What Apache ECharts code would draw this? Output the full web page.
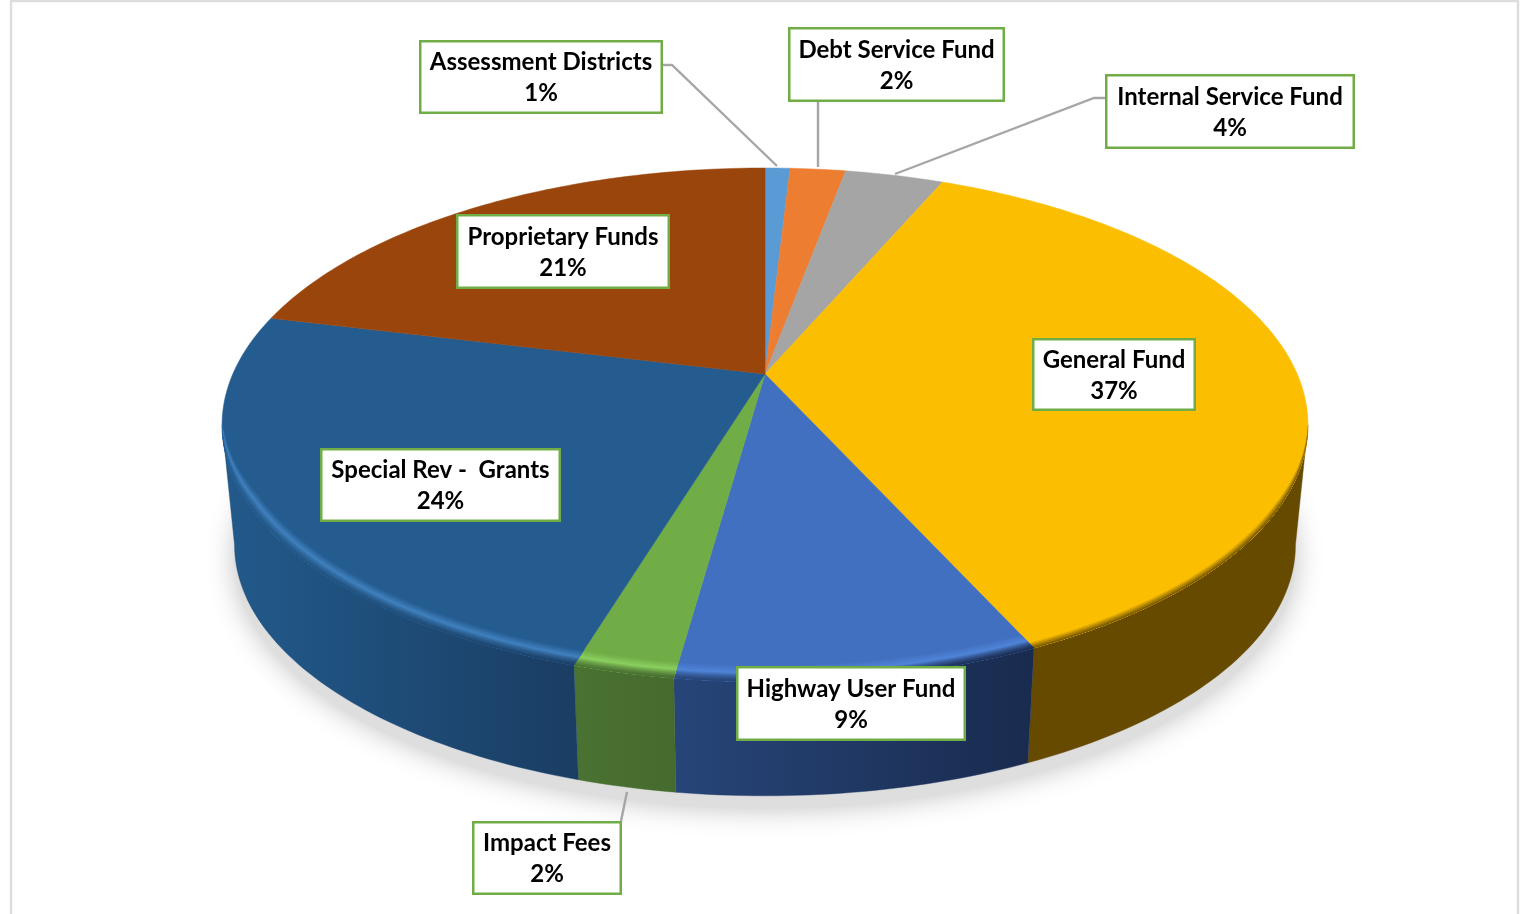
<!DOCTYPE html>
<html><head><meta charset="utf-8">
<style>html,body{margin:0;padding:0;background:#fff}#c{width:1520px;height:914px;filter:blur(0.55px)}</style>
<script src="https://cdn.jsdelivr.net/npm/echarts@6/dist/echarts.min.js"></script>
</head><body><div id="c"></div>
<script>
const categories = ['Assessment Districts','Debt Service Fund','Internal Service Fund','General Fund','Highway User Fund','Impact Fees','Special Rev -  Grants','Proprietary Funds'];
const percentLabels = ['1%','2%','4%','37%','9%','2%','24%','21%'];
const values = [0.9,2.0,3.55,36.75,9.0,2.5,24.1,21.2];
const faceColors = ['#5B9BD5','#ED7D31','#A5A5A5','#FBBE00','#4270C0','#70AD47','#255C90','#99450C'];
const rimColors = [null,null,null,null,'#4F84D8','#8AD05E','#3F80BE',null];
const wallLeftColors = ['#000','#000','#000','#664A00','#274579','#4A7232','#225A8B','#000'];
const wallRightColors = ['#000','#000','#000','#664A00','#192B4E','#456A2E','#1A3D63','#000'];
const labelBoxes = [[419,40,244,74],[788,27,217,75],[1105,74,250,75],[1032,338,164,73],[736,666,230,75],[472,821,150,74],[320,448,241,74],[456,214,214,75]];
const leaders = [[[662,65],[672,65],[777,166]],[[818,102],[818,167]],[[1105,98],[1094,98],[895,174]],[[627,792],[621,821]]];

const CX=765, CY=374, K=0.198, A=532.2, B=246.8, BOTTOM_SCALE=0.977, ELL_CY=425, BOTTOM_CY=545;
const rad=d=>d*Math.PI/180;
function proj(rho,deg){const u=rho*Math.sin(rad(deg)),v=rho*Math.cos(rad(deg)),w=1+K*v;return [CX+A*u/w,CY-B*v/w];}
const VIS_A=Math.acos(-K)*180/Math.PI, VIS_B=360-VIS_A;
function bevelPt(deg,s){
  const taper=Math.min(1,Math.max(0,(deg-VIS_A)/18),Math.max(0,(VIS_B-deg)/18));
  const e=s*Math.pow(taper,0.7);
  const p=proj(1-0.0008*e,deg);return [p[0],p[1]-0.75*e];
}
function bottomPt(deg){const p=proj(1,deg);return [CX+BOTTOM_SCALE*(p[0]-CX),BOTTOM_CY+BOTTOM_SCALE*(p[1]-ELL_CY)];}
function arc(a,b,fn){const o=[];const n=Math.max(2,Math.ceil(Math.abs(b-a)));for(let i=0;i<=n;i++)o.push(fn(a+(b-a)*i/n));return o;}
function hex(c){return [1,3,5].map(i=>parseInt(c.substr(i,2),16));}
function mix(a,b,t){const x=hex(a),y=hex(b);return '#'+x.map((v,i)=>Math.round(v+(y[i]-v)*t).toString(16).padStart(2,'0')).join('');}
// angle whose bevel point at level s still lies on the flat face's radial edge at angle T
function onRadial(T,s){
  const r=proj(1,T), dx=r[0]-CX, dy=r[1]-CY;
  const side=d=>{const p=bevelPt(d,s);return (p[0]-CX)*dy-(p[1]-CY)*dx;};
  let lo=T-8, hi=T+8, flo=side(lo);
  for(let n=0;n<30;n++){const m=(lo+hi)/2,fm=side(m);if((fm>0)===(flo>0)){lo=m;flo=fm;}else hi=m;}
  return (lo+hi)/2;
}
function bevelColor(i,s,wall){
  const face=faceColors[i], rim=rimColors[i];
  if(!rim){return s>=7?face:mix(wall,face,s/7);}
  if(s<=9)return mix(wall,rim,Math.pow(s/9,1.5));
  return s>=16?face:mix(rim,face,(s-9)/7);
}
function renderSlice(params,api){
  const i=params.dataIndex, total=values.reduce((a,b)=>a+b,0);
  let before=0;for(let j=0;j<i;j++)before+=values[j];
  const t0=before/total*360, t1=(before+api.value(0))/total*360;
  const kids=[];
  const a=Math.max(t0,VIS_A), b=Math.min(t1,VIS_B);
  const face=faceColors[i];
  const topPts=[[CX,CY]].concat(arc(t0,t1,d=>proj(1,d)));
  let wallFill=null, xs=null;
  if(b>a){
    const upper=arc(a,b,d=>proj(1,d)), lower=arc(b,a,bottomPt);
    const wp=upper.concat(lower);
    const allx=wp.map(p=>p[0]); xs=[Math.min(...allx),Math.max(...allx)];
    wallFill=(l,r)=>({type:'linear',global:true,x:xs[0],y:0,x2:xs[1],y2:0,colorStops:[{offset:0,color:l},{offset:1,color:r}]});
    kids.push({type:'polygon',shape:{points:wp},style:{fill:wallFill(wallLeftColors[i],wallRightColors[i]),stroke:mix(wallLeftColors[i],wallRightColors[i],.5),lineWidth:0.4}});
  }
  kids.push({type:'polygon',shape:{points:topPts},style:{fill:face,stroke:face,lineWidth:0.5}});
  if(b>a){
    for(let s=16;s>=1;s--){
      const sa=a===t0?onRadial(t0,s):a, sb=b===t1?onRadial(t1,s):b;
      const outer=arc(sa,sb,d=>bevelPt(d,s)), inner=arc(b,a,d=>proj(1,d));
      const l=bevelColor(i,s,wallLeftColors[i]), r=bevelColor(i,s,wallRightColors[i]);
      kids.push({type:'polygon',shape:{points:outer.concat(inner)},style:{fill:wallFill(l,r)}});
    }
  }
  return {type:'group',children:kids};
}
function renderShadow(){
  const pts=[];for(let d=0;d<360;d+=2){const p=bottomPt(d);pts.push([p[0],p[1]+13]);}
  return {type:'polygon',shape:{points:pts},style:{fill:'#dedede',shadowBlur:28,shadowColor:'rgba(0,0,0,0.25)',shadowOffsetX:0,shadowOffsetY:0}};
}
const graphics=[
  {type:'rect',silent:true,z:1,shape:{x:11,y:1,width:1507,height:930},style:{fill:'none',stroke:'#DDDDDD',lineWidth:2.4}}
];
leaders.forEach(p=>graphics.push({type:'polyline',z:5,shape:{points:p},style:{fill:'none',stroke:'#A6A6A6',lineWidth:2.4}}));
categories.forEach((n,i)=>{
  const [x,y,w,h]=labelBoxes[i];
  graphics.push({type:'rect',z:6,shape:{x:x+1.25,y:y+1.25,width:w-2.5,height:h-2.5},style:{fill:'#fff',stroke:'#70AD47',lineWidth:2.5}});
  graphics.push({type:'text',z:7,x:x+w/2,y:y+h/2+1,style:{text:n+'\n'+percentLabels[i],align:'center',verticalAlign:'middle',fill:'#000',font:'bold 24px Lato',lineHeight:31}});
});
const chart=echarts.init(document.getElementById('c'),null,{renderer:'canvas'});
chart.setOption({
  animation:false,backgroundColor:'#fff',tooltip:{show:false},
  series:[
    {type:'custom',coordinateSystem:'none',silent:true,z:1,clip:false,data:[0],renderItem:renderShadow},
    {type:'custom',coordinateSystem:'none',silent:true,z:2,clip:false,name:'Funds',
     data:values.map((v,i)=>({name:categories[i],value:[v]})),renderItem:renderSlice}
  ],
  graphic:graphics
});
</script></body></html>
